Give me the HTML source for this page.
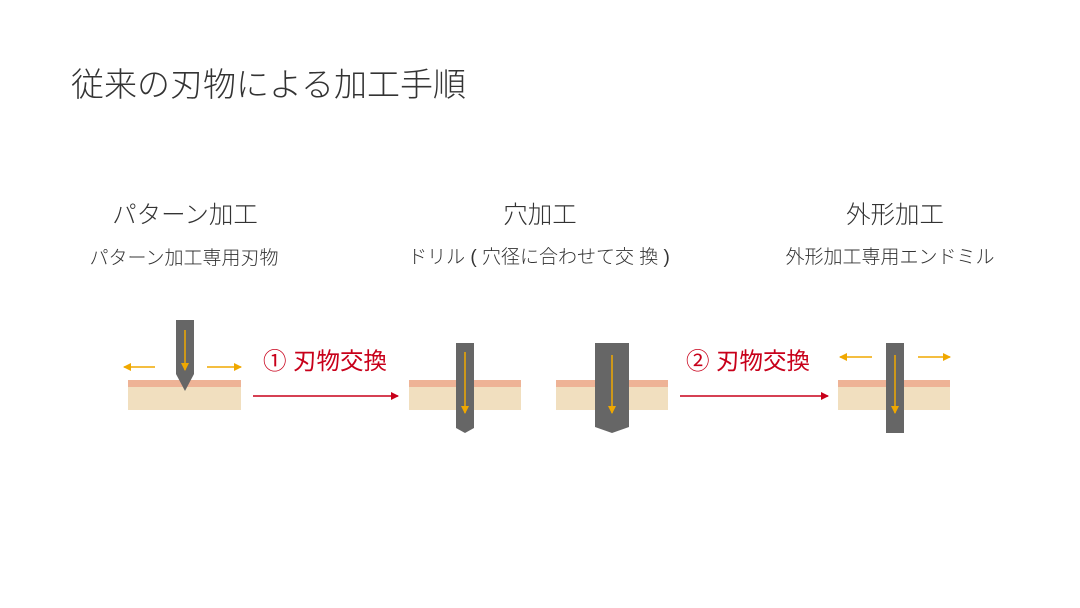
<!DOCTYPE html>
<html><head><meta charset="utf-8"><style>
body{margin:0;width:1080px;height:608px;background:#fff;overflow:hidden;position:relative;font-family:"Liberation Sans","Noto Sans CJK JP",sans-serif;color:#333}
.t{position:absolute;white-space:nowrap}
.c{transform:translateX(-50%)}
</style></head><body>
<div class="t" style="left:71px;top:58px;font-size:33px;font-weight:300">従来の刃物による加工手順</div>
<div class="t c" style="left:185px;top:196px;font-size:24.5px;font-weight:300">パターン加工</div>
<div class="t c" style="left:540px;top:196px;font-size:24.5px;font-weight:300">穴加工</div>
<div class="t c" style="left:895px;top:196px;font-size:24.5px;font-weight:300">外形加工</div>
<div class="t c" style="left:184px;top:243px;font-size:19px;font-weight:300">パターン加工専用刃物</div>
<div class="t c" style="left:539px;top:242px;font-size:19px;font-weight:300">ドリル ( 穴径に合わせて交 換 )</div>
<div class="t c" style="left:890px;top:242px;font-size:19px;font-weight:300">外形加工専用エンドミル</div>
<div class="t" style="left:263px;top:342px;font-size:23.5px;color:#c8001a">① 刃物交換</div>
<div class="t" style="left:686px;top:342px;font-size:23.5px;color:#c8001a">② 刃物交換</div>
<svg width="1080" height="608" style="position:absolute;left:0;top:0">
<defs>
<marker id="r" markerWidth="8" markerHeight="8" refX="7" refY="4" orient="auto" markerUnits="userSpaceOnUse"><path d="M0,0 L8,4 L0,8z" fill="#c8001a"/></marker>
<marker id="y" markerWidth="8" markerHeight="8" refX="7" refY="4" orient="auto" markerUnits="userSpaceOnUse"><path d="M0,0 L8,4 L0,8z" fill="#f0a800"/></marker>
</defs>
<g>
<rect x="128" y="380" width="113" height="7" fill="#eeb396"/><rect x="128" y="387" width="113" height="23" fill="#f1dfbf"/>
<rect x="409" y="380" width="112" height="7" fill="#eeb396"/><rect x="409" y="387" width="112" height="23" fill="#f1dfbf"/>
<rect x="556" y="380" width="112" height="7" fill="#eeb396"/><rect x="556" y="387" width="112" height="23" fill="#f1dfbf"/>
<rect x="838" y="380" width="112" height="7" fill="#eeb396"/><rect x="838" y="387" width="112" height="23" fill="#f1dfbf"/>
</g>
<path d="M176,320 H194 V374 L185,391 L176,374Z" fill="#666"/>
<path d="M456,343 H474 V428 L465,433 L456,428Z" fill="#666"/>
<path d="M595,343 H629 V427 L612,433 L595,427Z" fill="#666"/>
<rect x="886" y="343" width="18" height="90" fill="#666"/>
<g stroke="#f0a800" stroke-width="1.5" fill="none">
<line x1="185" y1="330" x2="185" y2="370" marker-end="url(#y)"/>
<line x1="155" y1="367" x2="124" y2="367" marker-end="url(#y)"/>
<line x1="207" y1="367" x2="241" y2="367" marker-end="url(#y)"/>
<line x1="465" y1="352" x2="465" y2="413" marker-end="url(#y)"/>
<line x1="612" y1="355" x2="612" y2="413" marker-end="url(#y)"/>
<line x1="895" y1="355" x2="895" y2="413" marker-end="url(#y)"/>
<line x1="872" y1="357" x2="840" y2="357" marker-end="url(#y)"/>
<line x1="918" y1="357" x2="950" y2="357" marker-end="url(#y)"/>
</g>
<g stroke="#c8001a" stroke-width="1.5">
<line x1="253" y1="396" x2="398" y2="396" marker-end="url(#r)"/>
<line x1="680" y1="396" x2="828" y2="396" marker-end="url(#r)"/>
</g>
</svg>
</body></html>
